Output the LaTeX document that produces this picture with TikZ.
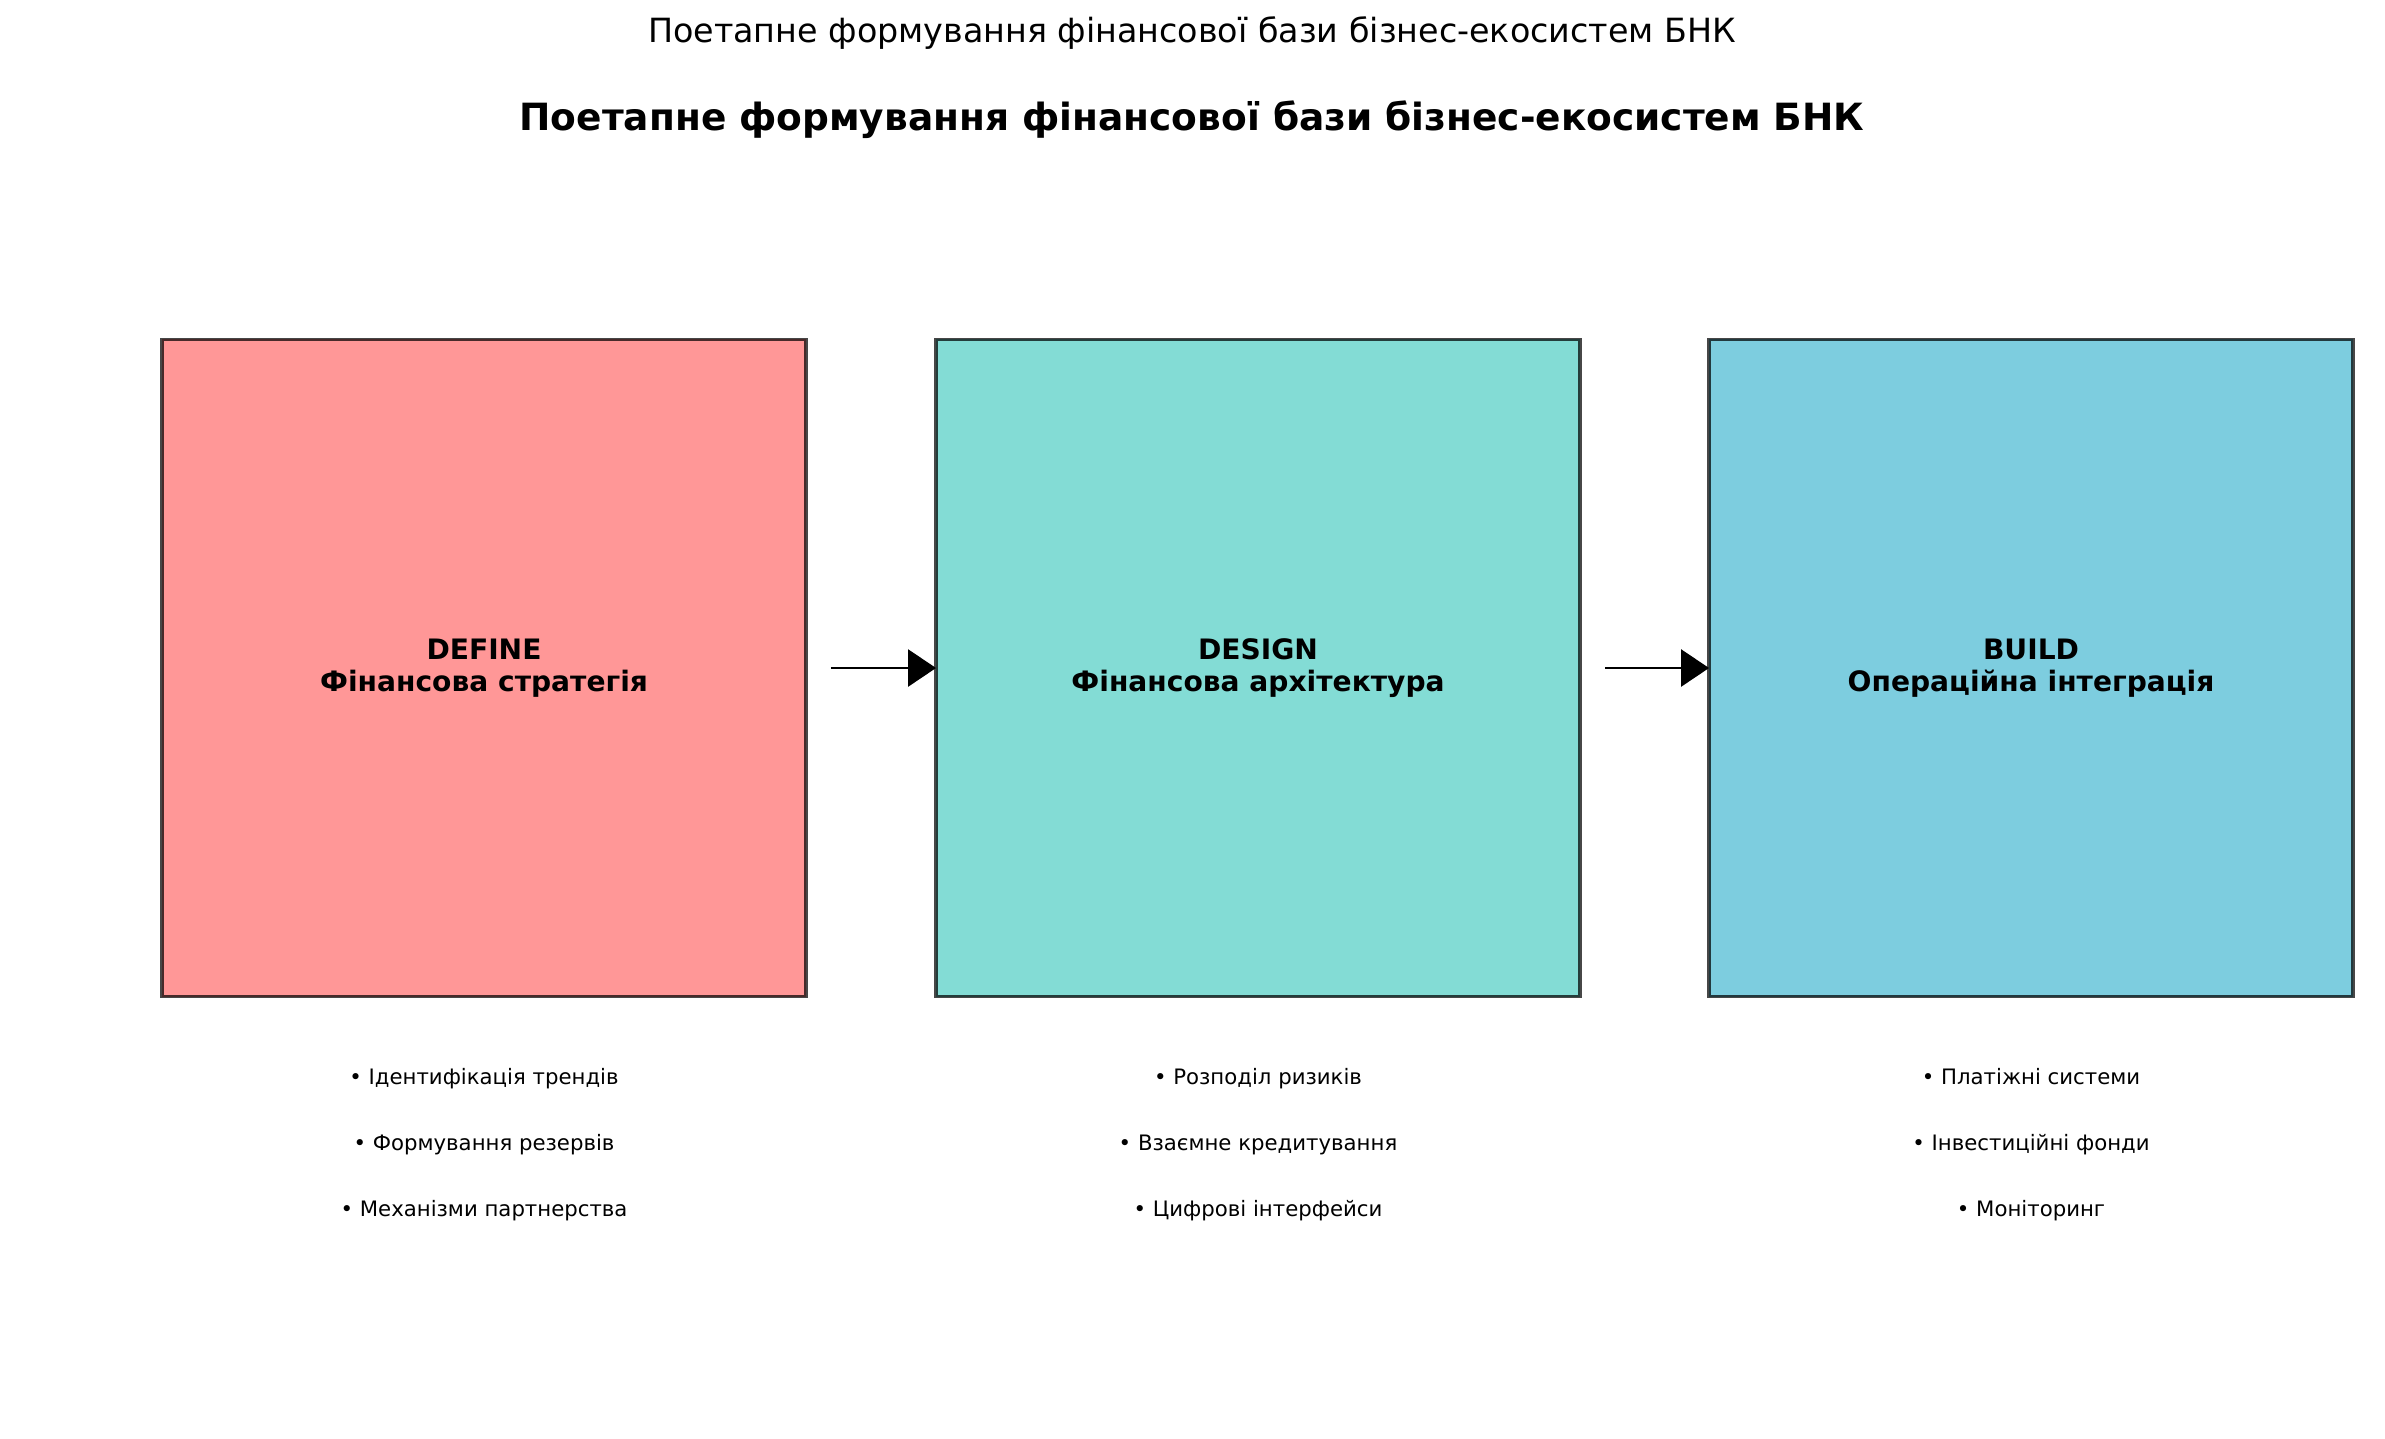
\documentclass[tikz,border=0pt]{standalone}
\usepackage{fontspec}
\setmainfont{DejaVu Sans}
\usetikzlibrary{arrows.meta}
\definecolor{cdefine}{HTML}{FF9797}
\definecolor{cdesign}{HTML}{83DCD5}
\definecolor{cbuild}{HTML}{7DCDDF}
\tikzset{
  stagebox/.style={draw=black, draw opacity=0.72, line width=1.65pt, fill=#1,
    minimum width=309.1pt, minimum height=315.4pt, inner sep=0pt, outer sep=0pt,
    align=center, font=\fontsize{13.5}{15.6}\selectfont\bfseries},
  bullettext/.style={font=\fontsize{10.2}{12}\selectfont, inner sep=0pt, anchor=center,
    text height=7.7pt, text depth=2.1pt},
  flowarrow/.style={line width=0.96pt, -{Triangle[length=13.4pt,width=17.8pt]}},
}
\begin{document}
\begin{tikzpicture}[x=0.48pt, y=-0.48pt]
\useasboundingbox[fill=white] (0,0) rectangle (2385,1438);
\node[font=\fontsize{16}{19}\selectfont, inner sep=0pt] (sup) at (1192,33) {Поетапне формування фінансової бази бізнес-екосистем БНК};
\node[font=\fontsize{18}{22}\selectfont\bfseries, inner sep=0pt] (ttl) at (1192,120) {Поетапне формування фінансової бази бізнес-екосистем БНК};

\node[stagebox=cdefine] (b1) at (484,668) {DEFINE\\Фінансова стратегія};
\node[stagebox=cdesign] (b2) at (1258,668) {DESIGN\\Фінансова архітектура};
\node[stagebox=cbuild] (b3) at (2031,668) {BUILD\\Операційна інтеграція};

\coordinate (a1s) at ([xshift=12pt]b1.east);
\coordinate (a2s) at ([xshift=12pt]b2.east);
\draw[flowarrow] (a1s) -- (b2.west);
\draw[flowarrow] (a2s) -- (b3.west);

\node[bullettext] (d1) at (484,1079) {• Ідентифікація трендів};
\node[bullettext] (d2) at (484,1145) {• Формування резервів};
\node[bullettext] (d3) at (484,1211) {• Механізми партнерства};
\node[bullettext] (e1) at (1258,1079) {• Розподіл ризиків};
\node[bullettext] (e2) at (1258,1145) {• Взаємне кредитування};
\node[bullettext] (e3) at (1258,1211) {• Цифрові інтерфейси};
\node[bullettext] (f1) at (2031,1079) {• Платіжні системи};
\node[bullettext] (f2) at (2031,1145) {• Інвестиційні фонди};
\node[bullettext] (f3) at (2031,1211) {• Моніторинг};
\end{tikzpicture}
\end{document}
